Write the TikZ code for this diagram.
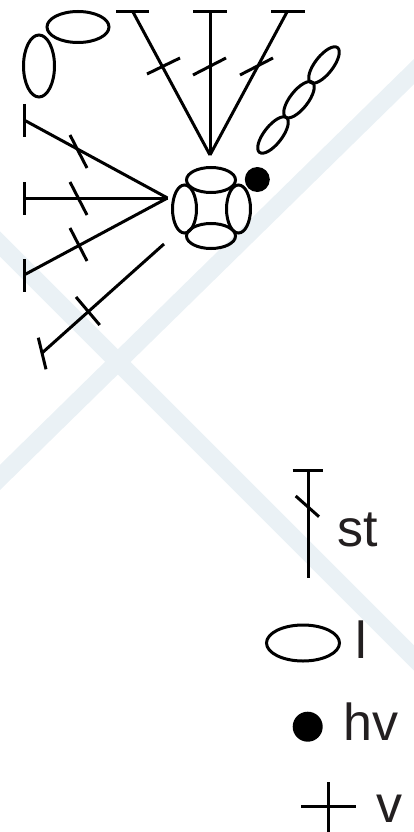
\documentclass[tikz,border=0pt]{standalone}
\usepackage{fontspec}
\setmainfont{Liberation Sans}
\usetikzlibrary{positioning,shapes.geometric}
\definecolor{bandcol}{HTML}{EAF1F5}
\definecolor{labelcol}{HTML}{231F20}

\begin{document}
\begin{tikzpicture}[
        x=1pt, y=-1pt,
        band/.style={draw=bandcol, line width=18pt},
        yarn/.style={line width=3pt, black},
        loopflat/.style={draw, yarn, ellipse, inner sep=0pt, minimum width=62pt, minimum height=31pt},
        looptall/.style={draw, yarn, ellipse, inner sep=0pt, minimum width=31pt, minimum height=62pt},
        ringflat/.style={draw, yarn, ellipse, inner sep=0pt, minimum width=49pt, minimum height=25pt},
        ringtall/.style={draw, yarn, ellipse, inner sep=0pt, minimum width=24pt, minimum height=48pt},
        chain/.style={draw, yarn, ellipse, inner sep=0pt, minimum width=44pt, minimum height=18pt, rotate=52},
        dot/.style={circle, fill=black, inner sep=0pt},
        legend/.style={anchor=base west, inner sep=0pt, text=labelcol, font=\fontsize{52}{52}\selectfont}
      ]
        \useasboundingbox (0,0) rectangle (414,832);
        % background cross
        \begin{scope}
          \clip (0,0) rectangle (414,832);
          \draw[band] (-20,224) -- (434,678);
          \draw[band] (-20,497) -- (434,52);
        \end{scope}

        % corner ring
        \node[ringflat] (ringtop) at (211,180) {};
        \node[ringflat] (ringbot) at (211,236) {};
        \node[ringtall] (ringl) at (184.5,209) {};
        \node[ringtall] (ringr) at (238.5,209) {};
        \node[dot, minimum size=25pt] (dotc) at (257.3,179.5) {};

        % loose chains
        \node[loopflat] (loopa) at (78,27) {};
        \node[looptall] (loopb) at (39,66) {};
        \node[chain] (chaina) at (273,135) {};
        \node[chain] (chainb) at (299,99.7) {};
        \node[chain] (chainc) at (324,65) {};

        % stitches over the ring
        \coordinate (hubt) at (210,155);
        \coordinate (ta) at (133,12);
        \coordinate (tb) at (210,12);
        \coordinate (tc) at (287,12);
        \draw[yarn] (hubt) -- (ta);
        \draw[yarn] (hubt) -- (tb);
        \draw[yarn] (hubt) -- (tc);
        \draw[yarn] (116,12) -- (149,12);
        \draw[yarn] (193,12) -- (227,12);
        \draw[yarn] (271,12) -- (305,12);
        \draw[yarn] (147,74) -- (180,58);
        \draw[yarn] (193,75) -- (226,58);
        \draw[yarn] (240,75) -- (273,58);

        % stitches to the left
        \coordinate (hubl) at (167.5,198);
        \coordinate (la) at (24,120);
        \coordinate (lb) at (24,198);
        \coordinate (lc) at (24,275);
        \draw[yarn] (hubl) -- (la);
        \draw[yarn] (hubl) -- (lb);
        \draw[yarn] (hubl) -- (lc);
        \draw[yarn] (24,104) -- (24,137);
        \draw[yarn] (24,182) -- (24,215);
        \draw[yarn] (24,259) -- (24,292);
        \draw[yarn] (70,135) -- (87,168);
        \draw[yarn] (70,182) -- (87,215);
        \draw[yarn] (70,228) -- (87,261);

        % stitch on its own
        \coordinate (da) at (164,244);
        \coordinate (db) at (42,353);
        \draw[yarn] (da) -- (db);
        \draw[yarn] (38.3,337.7) -- (46,369.3);
        \draw[yarn] (76,297) -- (99.7,325);

        % key
        \coordinate (sttop) at (308,470);
        \coordinate (stbot) at (308,578);
        \draw[yarn] (sttop) -- (stbot);
        \draw[yarn] (292.7,470) -- (322.7,470);
        \draw[yarn] (295.7,496) -- (319,516.7);
        \node[legend] (labst) at (337,546) {st};

        \node[draw, yarn, ellipse, inner sep=0pt, minimum width=73pt, minimum height=36pt] (keyl) at (303,643) {};
        \node[legend] (labl) at (355,658) {l};

        \node[dot, minimum size=30pt] (keyhv) at (307.7,726.7) {};
        \node[legend] (labhv) at (343,740) {hv};

        \coordinate (vl) at (301,806);
        \coordinate (vr) at (356,806);
        \coordinate (vt) at (328,782);
        \coordinate (vb) at (328,832);
        \draw[yarn] (vl) -- (vr);
        \draw[yarn] (vt) -- (vb);
        \node[legend] (labv) at (376,822) {v};
      \end{tikzpicture}
\end{document}
